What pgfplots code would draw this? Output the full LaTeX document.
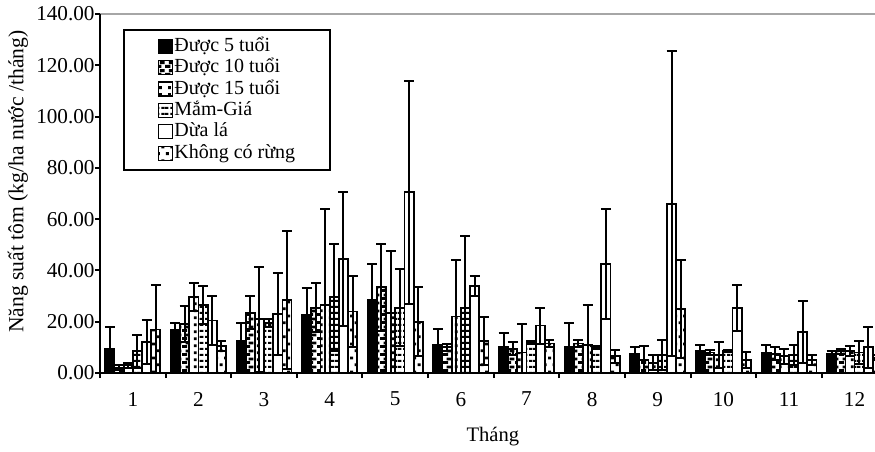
\documentclass[border=0pt]{standalone}
\usepackage{fontspec}
\setmainfont{Liberation Serif}
\usepackage{pgfplots}
\pgfplotsset{compat=1.18}
\usepackage{pgfplotstable}
\usetikzlibrary{patterns}

\pgfdeclarepatternformonly{brk}{\pgfqpoint{0pt}{0pt}}{\pgfqpoint{4.6pt}{4pt}}{\pgfqpoint{4.6pt}{4pt}}{%
  \pgfpathrectangle{\pgfqpoint{0pt}{0pt}}{\pgfqpoint{2.8pt}{1.6pt}}%
  \pgfpathrectangle{\pgfqpoint{2pt}{2pt}}{\pgfqpoint{2.6pt}{1.6pt}}%
  \pgfusepath{fill}}
\pgfdeclarepatternformonly{vdots}{\pgfqpoint{0pt}{0pt}}{\pgfqpoint{4.6pt}{3.4pt}}{\pgfqpoint{4.6pt}{3.4pt}}{%
  \pgfpathrectangle{\pgfqpoint{1.6pt}{0.9pt}}{\pgfqpoint{1.5pt}{1.5pt}}%
  \pgfusepath{fill}}
\pgfdeclarepatternformonly{hdash}{\pgfqpoint{0pt}{0pt}}{\pgfqpoint{4.6pt}{3pt}}{\pgfqpoint{4.6pt}{3pt}}{%
  \pgfpathrectangle{\pgfqpoint{0pt}{0pt}}{\pgfqpoint{1.8pt}{1.2pt}}%
  \pgfpathrectangle{\pgfqpoint{2.8pt}{0pt}}{\pgfqpoint{1.8pt}{1.2pt}}%
  \pgfusepath{fill}}
\pgfdeclarepatternformonly{sparse}{\pgfqpoint{0pt}{0pt}}{\pgfqpoint{4.6pt}{7pt}}{\pgfqpoint{4.6pt}{7pt}}{%
  \pgfpathrectangle{\pgfqpoint{0.4pt}{1pt}}{\pgfqpoint{1.6pt}{1.5pt}}%
  \pgfpathrectangle{\pgfqpoint{2.8pt}{4.5pt}}{\pgfqpoint{1.6pt}{1.5pt}}%
  \pgfusepath{fill}}

% month, mean, error (Duoc 5 tuoi)
\pgfplotstableread{
x y e
1 9.5 8.5
2 17 2.5
3 12.5 7
4 22.5 10.5
5 28.5 14
6 11 6
7 10 5.5
8 10 9.5
9 7.5 2.5
10 8.5 2.5
11 8 3
12 7.5 1
}\tA
% Duoc 10 tuoi
\pgfplotstableread{
x y e
1 2 1
2 19 7
3 23.5 6.5
4 25.5 9.5
5 33.5 17
6 10 1.5
7 9.5 2.5
8 11.5 1.5
9 5 5.5
10 8 1
11 7.5 2.5
12 8.5 1
}\tB
% Duoc 15 tuoi
\pgfplotstableread{
x y e
1 3 1
2 29.5 5.5
3 21 20.5
4 26.5 37.5
5 23.5 24
6 22 22
7 8 11
8 11 15.5
9 4 3
10 7 5
11 6.5 3
12 8.5 2
}\tC
% Mam-Gia
\pgfplotstableread{
x y e
1 8.5 6.5
2 26.5 7.5
3 19.5 1.5
4 29.5 21
5 25.5 15
6 25.5 28
7 12 0.5
8 10 0.5
9 7 6
10 8.5 0.5
11 7 4
12 8 4.5
}\tD
% Dua la
\pgfplotstableread{
x y e
1 12 8.5
2 20.5 9.5
3 23 16
4 44.5 26
5 70.5 43.5
6 34 4
7 18.5 7
8 42.5 21.5
9 66 59.5
10 25.5 9
11 16 12
12 10 8
}\tE
% Khong co rung
\pgfplotstableread{
x y e
1 17 17.5
2 10.5 2
3 28.5 27
4 24 14
5 20 13.5
6 12.5 9.5
7 11.5 1.5
8 6.5 2.5
9 25 19
10 5 3
11 5 2
12 6 1
}\tF

\begin{document}
\begin{tikzpicture}
\begin{axis}[
  name=ax,
  scale only axis,
  width=387.5pt, height=179.5pt,
  xmin=0.5, xmax=12.311,
  ymin=0, ymax=140,
  ybar, bar width=0.14,
  clip mode=individual,
  axis line style={draw=none},
  tick align=outside,
  tick pos=left,
  every tick/.style={black, line width=1pt},
  major tick length=2.5pt,
  xtick={0.5,1.5,...,11.5},
  xticklabels={},
  extra x ticks={1,2,...,12},
  extra x tick style={major tick length=0pt, xticklabel style={yshift=-6pt}},
  ytick={0,20,...,140},
  /pgf/number format/assume math mode=true,
  yticklabel style={/pgf/number format/fixed, /pgf/number format/fixed zerofill, /pgf/number format/precision=2, inner xsep=0pt},
  tick label style={font=\fontsize{10.6}{12}\selectfont},
  label style={font=\fontsize{10.3}{12}\selectfont},
  ylabel={Năng suất tôm (kg/ha nước /tháng)},
  ylabel style={at={(axis description cs:-0.1058,0.533)}, anchor=center, font=\fontsize{10.8}{12}\selectfont},
  xlabel={Tháng},
  xlabel style={at={(axis description cs:0.507,-0.178)}, anchor=center},
  error bars/error bar style={line width=1pt, black},
  error bars/error mark options={rotate=90, mark size=2.5pt, line width=1pt, black},
  legend image code/.code={\draw[#1, line width=0.6pt] (0pt,-3.2pt) rectangle (7pt,3.8pt);},
  legend cell align=left,
  legend style={at={(0.0297,0.958)}, anchor=north west, draw=black, line width=1pt,
    font=\fontsize{10}{11}\selectfont, inner xsep=17pt, inner ysep=3pt, row sep=0pt,
    nodes={inner sep=0.6pt, text height=7pt, text depth=2.5pt}},
]
\addplot[draw=black, line width=0.9pt, fill=black, bar shift=-0.35,
  error bars/.cd, y dir=both, y explicit] table[x=x, y=y, y error=e] {\tA};
\addplot[draw=black, line width=0.9pt, fill=white, pattern=brk, bar shift=-0.21,
  error bars/.cd, y dir=both, y explicit] table[x=x, y=y, y error=e] {\tB};
\addplot[draw=black, line width=0.9pt, fill=white, pattern=vdots, bar shift=-0.07,
  error bars/.cd, y dir=both, y explicit] table[x=x, y=y, y error=e] {\tC};
\addplot[draw=black, line width=0.9pt, fill=white, pattern=hdash, bar shift=0.07,
  error bars/.cd, y dir=both, y explicit] table[x=x, y=y, y error=e] {\tD};
\addplot[draw=black, line width=0.9pt, fill=white, bar shift=0.21,
  error bars/.cd, y dir=both, y explicit] table[x=x, y=y, y error=e] {\tE};
\addplot[draw=black, line width=0.9pt, fill=white, pattern=sparse, bar shift=0.35,
  error bars/.cd, y dir=both, y explicit] table[x=x, y=y, y error=e] {\tF};
\legend{Được 5 tuổi, Được 10 tuổi, Được 15 tuổi, Mắm-Giá, Dừa lá, Không có rừng}
\draw[gray!70, line width=0.8pt] (rel axis cs:0,1) -- (rel axis cs:1,1);
\draw[black, line width=1.1pt] (rel axis cs:0,1) -- (rel axis cs:0,0) -- (rel axis cs:1,0);
\end{axis}
\pgfresetboundingbox
\path[use as bounding box] ([xshift=-50pt,yshift=-39pt]ax.south west) rectangle ([yshift=7pt]ax.north east);
\end{tikzpicture}
\end{document}
